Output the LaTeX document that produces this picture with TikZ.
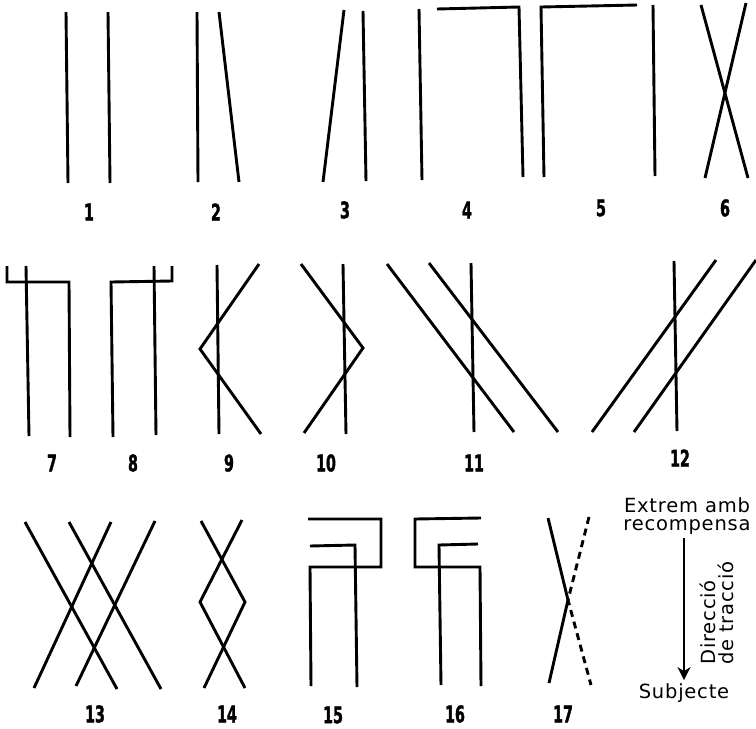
\documentclass[tikz,border=0pt]{standalone}
\usepackage{fontspec}
\setmainfont{DejaVu Sans}[LetterSpace=4]
\newfontfamily\numfont[FakeStretch=0.62,FakeBold=1.5]{DejaVu Sans}
\usetikzlibrary{arrows.meta}

\begin{document}
\begin{tikzpicture}[x=1pt, y=-1pt, line width=2.9pt]
  \tikzset{
    num/.style={font=\numfont\bfseries\fontsize{23}{23}\selectfont, inner sep=0pt},
    txt/.style={font=\fontsize{19.5}{18.5}\selectfont, align=center, inner sep=2pt},
    dashline/.style={dash pattern=on 7pt off 5pt}
  }
  \useasboundingbox (0,0) rectangle (756,729);
  % row 1
  \draw (66,12) -- (68,183);
  \draw (108,12) -- (110,183);
  \draw (197,12) -- (198,182);
  \draw (219,12) -- (239,182);
  \draw (344,10) -- (323,182);
  \draw (363,11) -- (366,181);
  \draw (419,9) -- (422,180);
  \draw (437,9) -- (519,7) -- (523,177);
  \draw (544,177) -- (541,7) -- (637,5);
  \draw (653,5) -- (655,176);
  \draw (701,5) -- (748,178);
  \draw (746,3) -- (705,178);
  \node[num] (n1) at (89,212) {1};
  \node[num] (n2) at (216,212) {2};
  \node[num] (n3) at (345,210) {3};
  \node[num] (n4) at (467,210) {4};
  \node[num] (n5) at (601,208) {5};
  \node[num] (n6) at (725,208) {6};
  % row 2
  \draw (26,266) -- (29,436);
  \draw (7,266) -- (7,282) -- (69,282) -- (70,437);
  \draw (113,437) -- (111,282) -- (172,281) -- (172,266);
  \draw (154,266) -- (156,435);
  \draw (217,265) -- (219,434);
  \draw (259,264) -- (200,349) -- (261,434);
  \draw (301,264) -- (363,348) -- (304,433);
  \draw (343,264) -- (346,434);
  \draw (387,264) -- (514,432);
  \draw (429,263) -- (558,432);
  \draw (471,263) -- (474,432);
  \draw (592,432) -- (716,260);
  \draw (634,432) -- (756,260);
  \draw (674,261) -- (677,431);
  \node[num] (n7) at (52,463) {7};
  \node[num] (n8) at (133,463) {8};
  \node[num] (n9) at (229,463) {9};
  \node[num] (n10) at (326,463) {10};
  \node[num] (n11) at (474,463) {11};
  \node[num] (n12) at (680,458) {12};
  % row 3
  \draw (25,522) -- (117,689);
  \draw (69,522) -- (161,689);
  \draw (111,522) -- (34,688);
  \draw (155,521) -- (76,686);
  \draw (201,521) -- (245,602) -- (204,688);
  \draw (242,520) -- (200,602) -- (245,688);
  \draw (308,519) -- (381,519) -- (381,567) -- (310,567) -- (311,686);
  \draw (310,546) -- (355,545) -- (357,687);
  \draw (481,518) -- (415,519) -- (415,567) -- (480,567) -- (481,686);
  \draw (478,544) -- (439,545) -- (441,685);
  \draw (548,518) -- (568,600) -- (549,683);
  \draw[dashline] (589,517) -- (568,600) -- (591,685);
  \node[num] (n13) at (95,714) {13};
  \node[num] (n14) at (227,714) {14};
  \node[num] (n15) at (333,715) {15};
  \node[num] (n16) at (455,714) {16};
  \node[num] (n17) at (563,714) {17};
  % llegenda
  \node[txt] (extrem) at (687,516) {Extrem amb\\recompensa};
  \node[txt] (subj) at (684,693) {Subjecte};
  \node[txt, rotate=90, align=left] (dir) at (717,613) {Direcció\\de tracció};
  \draw[line width=2.6pt, -{Stealth[length=13pt, width=13pt, inset=4pt]}] (extrem.south -| subj) -- (subj);
\end{tikzpicture}
\end{document}
